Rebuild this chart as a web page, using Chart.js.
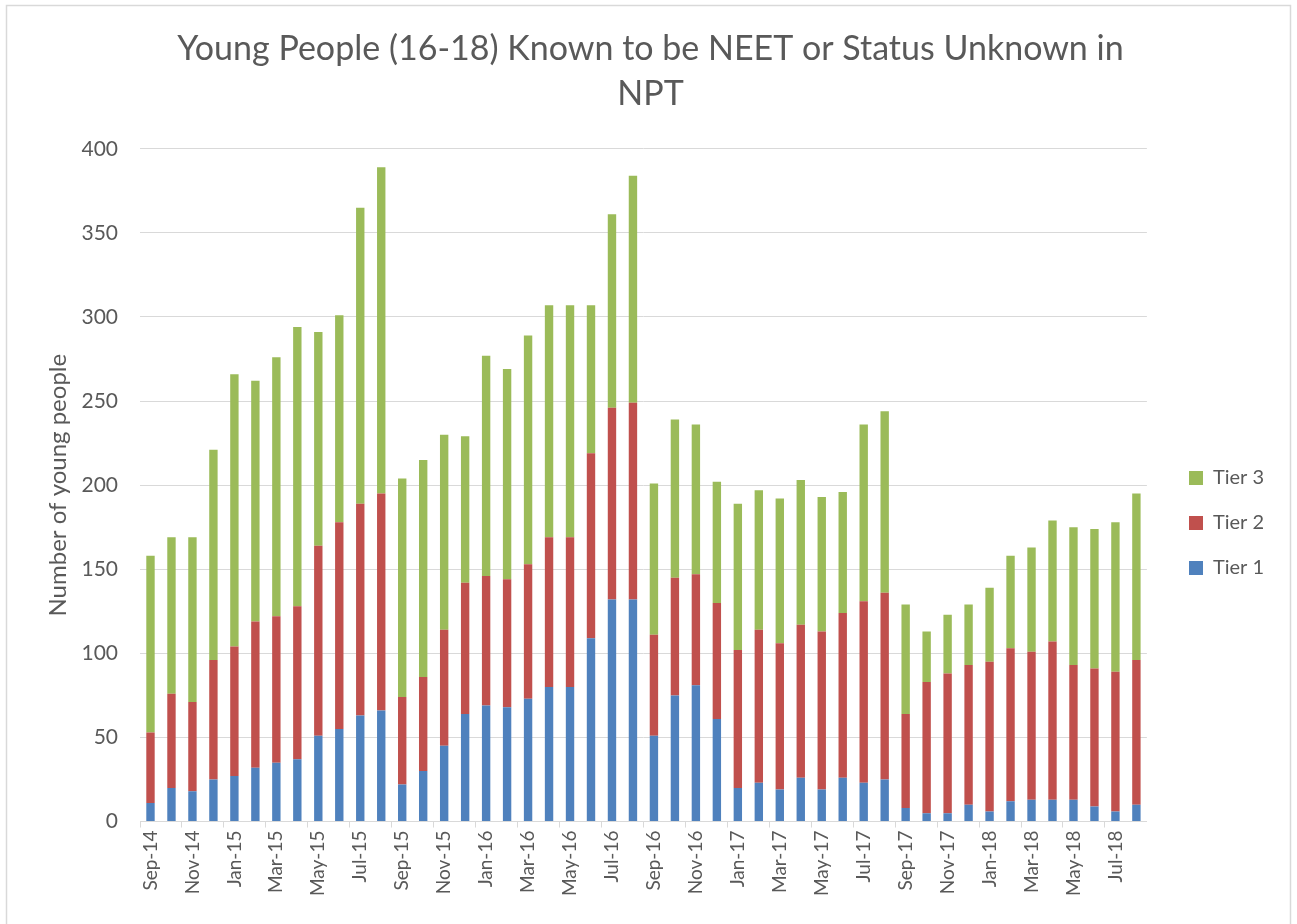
<!DOCTYPE html>
<html>
<head>
<meta charset="utf-8">
<script src="https://cdn.jsdelivr.net/npm/chart.js@4.4.1/dist/chart.umd.min.js"></script>
<style>
  html, body { margin: 0; padding: 0; background: #ffffff; }
  #wrap { position: absolute; left: 0; top: 0; width: 1297px; height: 924px; }
</style>
</head>
<body>
<div id="wrap"><canvas id="c" width="1297" height="924"></canvas></div>
<script>
const months = [
  'Sep-14','Oct-14','Nov-14','Dec-14','Jan-15','Feb-15','Mar-15','Apr-15','May-15','Jun-15','Jul-15','Aug-15',
  'Sep-15','Oct-15','Nov-15','Dec-15','Jan-16','Feb-16','Mar-16','Apr-16','May-16','Jun-16','Jul-16','Aug-16',
  'Sep-16','Oct-16','Nov-16','Dec-16','Jan-17','Feb-17','Mar-17','Apr-17','May-17','Jun-17','Jul-17','Aug-17',
  'Sep-17','Oct-17','Nov-17','Dec-17','Jan-18','Feb-18','Mar-18','Apr-18','May-18','Jun-18','Jul-18','Aug-18'
];
const tier1 = [11,20,18,25,27,32,35,37,51,55,63,66, 22,30,45,64,69,68,73,80,80,109,132,132, 51,75,81,61,20,23,19,26,19,26,23,25, 8,5,5,10,6,12,13,13,13,9,6,10];
const tier2 = [42,56,53,71,77,87,87,91,113,123,126,129, 52,56,69,78,77,76,80,89,89,110,114,117, 60,70,66,69,82,91,87,91,94,98,108,111, 56,78,83,83,89,91,88,94,80,82,83,86];
const tier3 = [105,93,98,125,162,143,154,166,127,123,176,194, 130,129,116,87,131,125,136,138,138,88,115,135, 90,94,89,72,87,83,86,86,80,72,105,108, 65,30,35,36,44,55,62,72,82,83,89,99];
const yTicks = [0,50,100,150,200,250,300,350,400];

const grey = '#595959';
const font = 'Lato, "Open Sans", sans-serif';

const borderPlugin = {
  id: 'outerBorder',
  beforeDraw(chart) {
    const ctx = chart.ctx;
    ctx.save();
    ctx.strokeStyle = '#d9d9d9';
    ctx.lineWidth = 1.5;
    ctx.strokeRect(6.5, 5.5, 1284, 940);
    ctx.restore();
  }
};
const legendShift = {
  id: 'legendShift',
  afterLayout(chart) {
    const lg = chart.legend;
    const pad = lg.options.labels.padding;
    const dx = 1189 - (lg.left + pad);
    lg.left += dx; lg.right += dx;
    const dy = (478 - 10 - pad) - lg.top;
    lg.top += dy; lg.bottom += dy;
  }
};

new Chart(document.getElementById('c'), {
  type: 'bar',
  data: {
    labels: months,
    datasets: [
      { label: 'Tier 1', data: tier1, backgroundColor: '#4F81BD' },
      { label: 'Tier 2', data: tier2, backgroundColor: '#C0504D' },
      { label: 'Tier 3', data: tier3, backgroundColor: '#9BBB59' }
    ]
  },
  plugins: [borderPlugin, legendShift],
  options: {
    responsive: false,
    animation: false,
    layout: { padding: { top: 10, left: 44, right: 40, bottom: 25 } },
    datasets: { bar: { barPercentage: 0.4, categoryPercentage: 1.0 } },
    plugins: {
      title: {
        display: true,
        text: ['Young People (16-18) Known to be NEET or Status Unknown in', 'NPT'],
        color: grey,
        font: { family: font, size: 34, weight: '400', lineHeight: 1.32 },
        padding: { top: 17, bottom: 32 }
      },
      legend: {
        position: 'right',
        align: 'start',
        reverse: true,
        labels: {
          color: grey,
          font: { family: font, size: 20 },
          boxWidth: 14, boxHeight: 14,
          padding: 25
        }
      },
      tooltip: { enabled: false }
    },
    scales: {
      x: {
        stacked: true,
        grid: {
          offset: true,
          drawOnChartArea: false,
          drawTicks: true,
          tickLength: 6,
          color: (c) => (c.index % 2 === 0 ? '#d9d9d9' : 'rgba(0,0,0,0)')
        },
        border: { display: true, color: '#d9d9d9', width: 1 },
        ticks: {
          autoSkip: false,
          maxRotation: 90, minRotation: 90,
          color: grey,
          padding: 3,
          font: { family: font, size: 19 },
          callback: (v, i) => (i % 2 === 0 ? months[i] : '')
        }
      },
      y: {
        stacked: true,
        min: 0, max: 400,
        afterBuildTicks: (s) => { s.ticks = yTicks.map(v => ({ value: v })); },
        afterFit: (s) => { s.width = 96; },
        grid: { color: '#d9d9d9', drawTicks: false },
        border: { display: false },
        ticks: { color: grey, padding: 22, font: { family: font, size: 21 } },
        title: {
          display: true,
          text: 'Number of young people',
          color: grey,
          font: { family: font, size: 24 },
          padding: { top: 0, bottom: 0 }
        }
      }
    }
  }
});
</script>
</body>
</html>
